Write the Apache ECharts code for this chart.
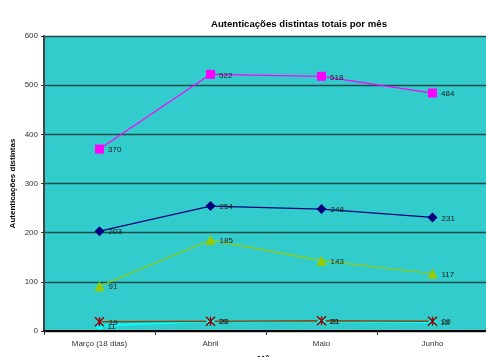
<!DOCTYPE html>
<html>
<head>
<meta charset="utf-8">
<script src="https://cdn.jsdelivr.net/npm/echarts@6/dist/echarts.min.js"></script>
<style>
  html, body { margin: 0; padding: 0; background: #fff; }
  #chart { width: 486px; height: 357px; }
</style>
</head>
<body>
<div id="chart"></div>
<script>
// dados do gráfico
const meses = ['Março (18 dias)', 'Abril', 'Maio', 'Junho'];
const serieQuadrado = [370, 522, 518, 484];
const serieLosango = [203, 254, 248, 231];
const serieTriangulo = [91, 185, 143, 117];
const serieX = [19, 20, 21, 20];
const serieCirculo = [11, 20, 20, 18];
const yTicks = [0, 100, 200, 300, 400, 500, 600];

function getChart () {
  const myChart = echarts.init(document.getElementById('chart'));

  const labelStyle = {
    show: true,
    position: 'right',
    distance: 4,
    offset: [0, 1],
    fontSize: 8,
    color: '#222',
    fontFamily: 'Liberation Sans'
  };

  function linha (nome, dados, cor, simbolo, tamanho, largura) {
    return {
      name: nome,
      type: 'line',
      data: dados,
      symbol: simbolo,
      symbolSize: tamanho,
      lineStyle: { color: cor, width: largura || 1.2 },
      itemStyle: { color: cor },
      label: labelStyle,
      animation: false
    };
  }

  const option = {
    backgroundColor: '#fff',
    title: {
      text: 'Autenticações distintas totais por mês',
      left: 294,
      textAlign: 'center',
      top: 14,
      textStyle: { fontSize: 9.6, fontWeight: 'bold', color: '#000', fontFamily: 'Liberation Sans' }
    },
    grid: {
      left: 44,
      top: 36,
      right: -2,
      bottom: 26,
      outerBoundsMode: 'none',
      containLabel: false,
      show: true,
      backgroundColor: '#33CCCC',
      borderWidth: 0
    },
    xAxis: {
      type: 'category',
      data: meses,
      boundaryGap: true,
      name: 'Mês',
      nameLocation: 'middle',
      nameGap: 24,
      nameMoveOverlap: false,
      nameTextStyle: { fontSize: 9, fontWeight: 'bold', color: '#000', fontFamily: 'Liberation Sans' },
      axisTick: { show: true, length: 4, lineStyle: { color: '#333' } },
      axisLabel: { fontSize: 8, color: '#333', margin: 9, fontFamily: 'Liberation Sans' },
      axisLine: { lineStyle: { color: '#000', width: 2 } },
      splitLine: { show: false }
    },
    yAxis: {
      type: 'value',
      min: yTicks[0],
      max: yTicks[yTicks.length - 1],
      interval: 100,
      name: 'Autenticações distintas',
      nameLocation: 'middle',
      nameGap: 27,
      nameMoveOverlap: false,
      nameTextStyle: { fontSize: 8, fontWeight: 'bold', color: '#000', fontFamily: 'Liberation Sans' },
      axisLabel: { fontSize: 8, color: '#333', margin: 6, fontFamily: 'Liberation Sans' },
      axisLine: { show: true, lineStyle: { color: '#444', width: 2 } },
      axisTick: { show: true, length: 3, lineStyle: { color: '#333' } },
      splitLine: { show: true, lineStyle: { color: '#1a4a4a', width: 1.3 } }
    },
    series: [
      linha('quadrado', serieQuadrado, '#FF00FF', 'rect', 9),
      linha('losango', serieLosango, '#000080', 'diamond', 10),
      linha('triangulo', serieTriangulo, '#99CC00', 'triangle', 10),
      linha('circulo', serieCirculo, '#00FFFF', 'circle', 8, 2.2),
      {
        name: 'x',
        type: 'line',
        data: serieX,
        symbol: 'path://M0,0 L10,10 M10,0 L0,10 M5,0 L5,10',
        symbolSize: 9,
        lineStyle: { color: '#8B4513', width: 1.5 },
        itemStyle: { color: 'rgba(0,0,0,0)', borderColor: '#990000', borderWidth: 1.5 },
        label: labelStyle,
        animation: false
      }
    ]
  };

  myChart.setOption(option);

  window.addEventListener('resize', function () {
    myChart.resize();
  });
}

getChart();
</script>
</body>
</html>
